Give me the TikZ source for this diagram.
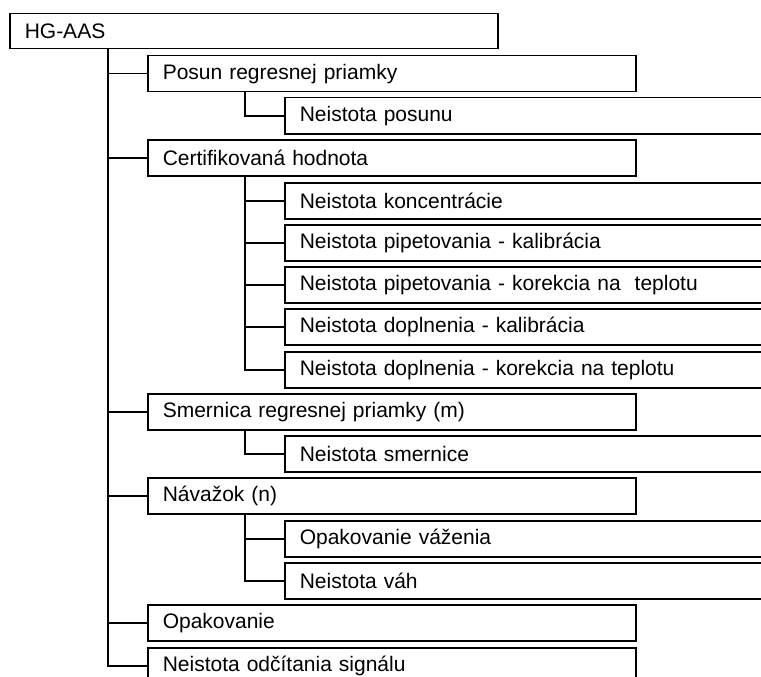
\documentclass[tikz,border=0pt]{standalone}
\usepackage{fontspec}
\setmainfont{Liberation Sans}
\begin{document}
\begin{tikzpicture}[x=1pt,y=-1pt,
  lbl/.style={draw=black, line width=1.5pt, fill=white, rectangle, anchor=north west,
    minimum height=36pt, inner ysep=0pt, inner xsep=15pt, align=left,
    font=\fontsize{21}{24}\selectfont},
  rootbox/.style={lbl, text width=458pt, minimum height=35pt},
  lone/.style={lbl, text width=458pt},
  ltwo/.style={lbl, text width=470pt},
  conn/.style={line width=1.5pt}]
\clip (0,0) rectangle (761,677);
\fill[white] (0,0) rectangle (761,677);

\node[rootbox] (root) at (9,13) {HG-AAS};

\node[lone] (posun) at (147,55) {Posun regresnej priamky};
\node[ltwo] (nposunu) at (284,97) {Neistota posunu};

\node[lone] (cert) at (147,139) {Certifikovaná hodnota};
\node[ltwo] (konc) at (284,182) {Neistota koncentrácie};
\node[ltwo] (pipkal) at (284,224) {Neistota pipetovania - kalibrácia};
\node[ltwo] (pipkor) at (284,266) {Neistota pipetovania - korekcia na\ \ teplotu};
\node[ltwo] (dopkal) at (284,308) {Neistota doplnenia - kalibrácia};
\node[ltwo] (dopkor) at (284,351) {Neistota doplnenia - korekcia na teplotu};

\node[lone] (smer) at (147,393) {Smernica regresnej priamky (m)};
\node[ltwo] (nsmer) at (284,435) {Neistota smernice};

\node[lone] (nav) at (147,477) {Návažok (n)};
\node[ltwo] (opvaz) at (284,520) {Opakovanie váženia};
\node[ltwo] (nvah) at (284,562) {Neistota váh};

\node[lone] (opak) at (147,604) {Opakovanie};
\node[lone] (odc) at (147,647) {Neistota odčítania signálu};

% main trunk
\coordinate (t0) at ([xshift=99pt]root.south west);
\foreach \n in {posun,cert,smer,nav,opak,odc} \draw[conn] (t0) |- (\n.west);

% sub trunks
\coordinate (t1) at ([xshift=98pt]posun.south west);
\draw[conn] (t1) |- (nposunu.west);
\coordinate (t2) at ([xshift=98pt]cert.south west);
\foreach \n in {konc,pipkal,pipkor,dopkal,dopkor} \draw[conn] (t2) |- (\n.west);
\coordinate (t3) at ([xshift=98pt]smer.south west);
\draw[conn] (t3) |- (nsmer.west);
\coordinate (t4) at ([xshift=98pt]nav.south west);
\foreach \n in {opvaz,nvah} \draw[conn] (t4) |- (\n.west);
\end{tikzpicture}
\end{document}
